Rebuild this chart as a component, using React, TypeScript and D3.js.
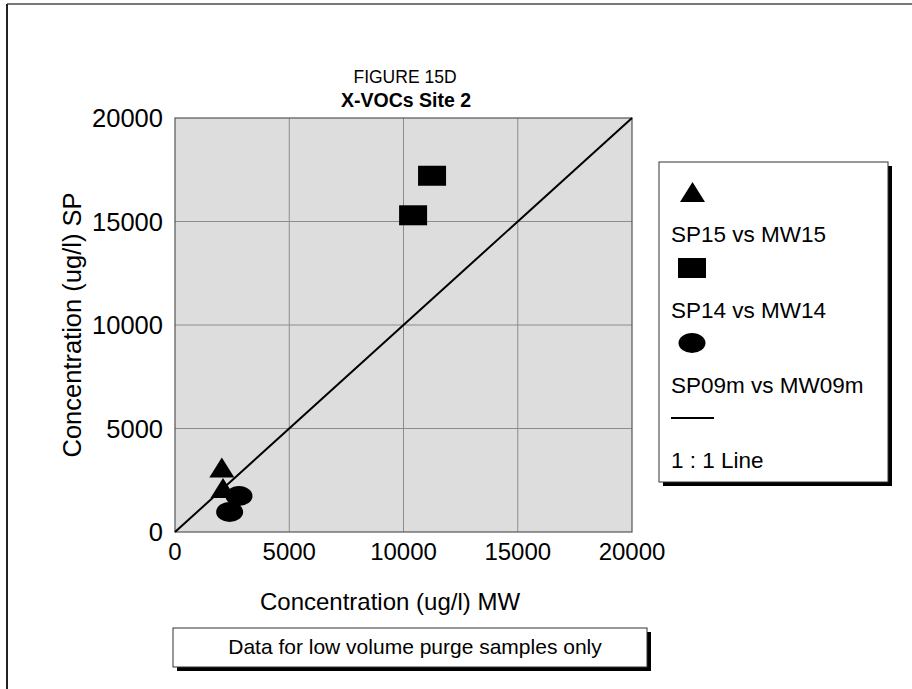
import React from "react";
import * as d3 from "d3";

const xTicks = [0, 5000, 10000, 15000, 20000];
const yTicks = [0, 5000, 10000, 15000, 20000];

const sp15X = [2050, 2100];
const sp15Y = [3120, 2120];
const sp14X = [10420, 11250];
const sp14Y = [15300, 17210];
const sp09X = [2800, 2390];
const sp09Y = [1740, 970];

const legendLabels = ["SP15 vs MW15", "SP14 vs MW14", "SP09m vs MW09m", "1 : 1 Line"];
const titleLine1 = "FIGURE 15D";
const titleLine2 = "X-VOCs Site 2";
const xTitle = "Concentration (ug/l) MW";
const yTitle = "Concentration (ug/l) SP";
const note = "Data for low volume purge samples only";

const FONT = "'Liberation Sans', Arial, sans-serif";

const W = 912, H = 689;
const PL = 175, PR = 632, PT = 118, PB = 532;

function Tri({ cx, cy }: { cx: number; cy: number }) {
  const w = 25, h = 20;
  return <path d={`M${cx},${cy - h / 2}L${cx + w / 2},${cy + h / 2}L${cx - w / 2},${cy + h / 2}Z`} fill="#000" />;
}
function Sq({ cx, cy }: { cx: number; cy: number }) {
  return <rect x={cx - 14} y={cy - 10} width={28} height={20} fill="#000" />;
}
function Ell({ cx, cy }: { cx: number; cy: number }) {
  return <ellipse cx={cx} cy={cy} rx={13.5} ry={10} fill="#000" />;
}

export default function App() {
  const x = d3.scaleLinear().domain([0, 20000]).range([PL, PR]);
  const y = d3.scaleLinear().domain([0, 20000]).range([PB, PT]);

  const lg = { x: 659, y: 162, w: 229, h: 320 };
  const nb = { x: 173, y: 628, w: 474, h: 39 };

  return (
    <svg width={W} height={H} style={{ position: "absolute", left: 0, top: 0 }} fontFamily={FONT}>
      <rect x={0} y={0} width={W} height={H} fill="#fff" />
      {/* outer frame */}
      <line x1={7} y1={4} x2={W + 5} y2={4} stroke="#777" strokeWidth={2} />
      <line x1={7} y1={4} x2={7} y2={H + 5} stroke="#222" strokeWidth={2} />

      {/* titles */}
      <text x={405} y={83} textAnchor="middle" fontSize={17.5}>{titleLine1}</text>
      <text x={406} y={107} textAnchor="middle" fontSize={19.5} fontWeight="bold">{titleLine2}</text>

      {/* plot area */}
      <rect x={PL} y={PT} width={PR - PL} height={PB - PT} fill="#dddddd" />
      {xTicks.slice(1, -1).map((t) => (
        <line key={"gx" + t} x1={x(t)} x2={x(t)} y1={PT} y2={PB} stroke="#8c8c8c" strokeWidth={1} />
      ))}
      {yTicks.slice(1, -1).map((t) => (
        <line key={"gy" + t} y1={y(t)} y2={y(t)} x1={PL} x2={PR} stroke="#8c8c8c" strokeWidth={1} />
      ))}
      <rect x={PL} y={PT} width={PR - PL} height={PB - PT} fill="none" stroke="#555" strokeWidth={1.2} />

      {/* 1:1 line */}
      <line x1={x(0)} y1={y(0)} x2={x(20000)} y2={y(20000)} stroke="#000" strokeWidth={2} />

      {/* data */}
      {sp15X.map((v, i) => <Tri key={"t" + i} cx={x(v)} cy={y(sp15Y[i])} />)}
      {sp14X.map((v, i) => <Sq key={"s" + i} cx={x(v)} cy={y(sp14Y[i])} />)}
      {sp09X.map((v, i) => <Ell key={"e" + i} cx={x(v)} cy={y(sp09Y[i])} />)}

      {/* ticks labels */}
      {xTicks.map((t) => (
        <text key={"xl" + t} x={x(t)} y={560} textAnchor="middle" fontSize={24}>{t}</text>
      ))}
      {yTicks.map((t) => (
        <text key={"yl" + t} x={163} y={y(t) + 9} textAnchor="end" fontSize={25.5}>{t}</text>
      ))}
      <text x={390} y={610} textAnchor="middle" fontSize={24}>{xTitle}</text>
      <text transform={`translate(81,${(PT + PB) / 2}) rotate(-90)`} textAnchor="middle" fontSize={25.5}>{yTitle}</text>

      {/* legend */}
      <rect x={lg.x + 4} y={lg.y + 4} width={lg.w} height={lg.h} fill="#000" />
      <rect x={lg.x} y={lg.y} width={lg.w} height={lg.h} fill="#fff" stroke="#333" strokeWidth={1} />
      <Tri cx={692.5} cy={192} />
      <text x={671} y={242} fontSize={22.5}>{legendLabels[0]}</text>
      <Sq cx={692} cy={268} />
      <text x={671} y={318} fontSize={22.5}>{legendLabels[1]}</text>
      <Ell cx={692} cy={343} />
      <text x={671} y={393} fontSize={22.5}>{legendLabels[2]}</text>
      <line x1={671} x2={714} y1={418} y2={418} stroke="#000" strokeWidth={2} />
      <text x={671} y={468} fontSize={22.5}>{legendLabels[3]}</text>

      {/* note box */}
      <rect x={nb.x + 4} y={nb.y + 4} width={nb.w} height={nb.h} fill="#000" />
      <rect x={nb.x} y={nb.y} width={nb.w} height={nb.h} fill="#fff" stroke="#333" strokeWidth={1} />
      <text x={415} y={654} textAnchor="middle" fontSize={21}>{note}</text>
    </svg>
  );
}
